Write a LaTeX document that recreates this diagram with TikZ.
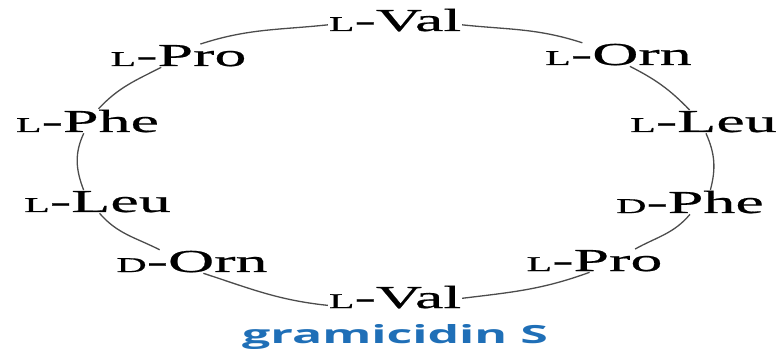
\documentclass[tikz,border=0pt]{standalone}
\usepackage{fontspec}
\setmainfont{Liberation Serif}[FakeStretch=2.0, FakeBold=0.6]
\newfontfamily\gramfont{Open Sans}[FakeStretch=2.0]
\usetikzlibrary{positioning}
\definecolor{gramblue}{RGB}{31,111,183}
\newcommand\Lsc{{\fontsize{21}{21}\selectfont L}}
\newcommand\Dsc{{\fontsize{21}{21}\selectfont D}}
\tikzset{
  res/.style={inner sep=1pt, outer sep=0pt, anchor=base, font=\fontsize{32}{36}\selectfont},
  link/.style={draw=black!70, line width=1.3pt},
}
\begin{document}
\begin{tikzpicture}[x=1pt,y=1pt]
\useasboundingbox (0,0) rectangle (781,348);
\node[res] (valT) at (395,317) {\Lsc-Val};
\node[res] (proL) at (178.5,282) {\Lsc-Pro};
\node[res] (pheL) at (87.5,216) {\Lsc-Phe};
\node[res] (leuL) at (97.5,136) {\Lsc-Leu};
\node[res] (ornD) at (192,76) {\Dsc-Orn};
\node[res] (valB) at (395,40) {\Lsc-Val};
\node[res] (proR) at (594.5,77) {\Lsc-Pro};
\node[res] (pheD) at (690,135) {\Dsc-Phe};
\node[res] (leuR) at (703.5,216) {\Lsc-Leu};
\node[res] (ornL) at (618.5,283) {\Lsc-Orn};
\node[anchor=base, inner sep=0pt, text=gramblue, font=\gramfont\bfseries\fontsize{25}{28}\selectfont] (name) at (395,5) {gramicidin S};
\draw[link] (valT.184) to[out=186,in=18] (proL.28);
\draw[link] (proL.214) to[out=207,in=47] (pheL.48);
\draw[link] (pheL.253) to[out=245,in=111] (leuL.140);
\draw[link] (leuL.280) to[out=311,in=153] (ornD.160);
\draw[link] (ornD.314) to[out=342,in=174] (valB.187);
\draw[link] (valB.359) to[out=7,in=200] (proR.247);
\draw[link] (proR.16) to[out=29,in=230] (pheD.270);
\draw[link] (pheD.31) to[out=75,in=294] (leuR.282);
\draw[link] (leuR.140) to[out=134,in=333] (ornL.314);
\draw[link] (ornL.162) to[out=162,in=354] (valT.356);
\end{tikzpicture}
\end{document}
